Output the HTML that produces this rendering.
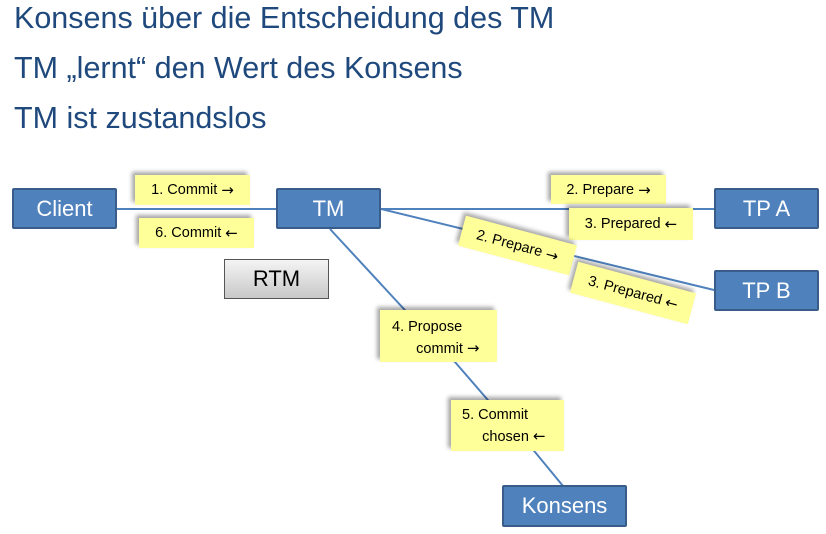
<!DOCTYPE html>
<html><head><meta charset="utf-8"><style>
body{margin:0;width:826px;height:534px;background:#fff;position:relative;overflow:hidden;font-family:"Liberation Sans",sans-serif}
.t{position:absolute;left:14px;font-size:30.5px;color:#1F497D;white-space:nowrap}
.b{position:absolute;background:#4F81BD;border:2px solid #385D8A;box-sizing:border-box;color:#fff;font-size:22px;display:flex;align-items:center;justify-content:center;border-radius:2px}
.n{position:absolute;background:#FFFF99;box-shadow:-3px -3px 4px rgba(0,0,0,.35);font-size:14.5px;color:#000;box-sizing:border-box;white-space:nowrap}
.c{display:flex;align-items:center;justify-content:center}
.a{font-family:"DejaVu Sans",sans-serif;font-size:15px}
</style></head><body>
<div class="t" style="top:1px">Konsens über die Entscheidung des TM</div>
<div class="t" style="top:51px">TM „lernt“ den Wert des Konsens</div>
<div class="t" style="top:101px">TM ist zustandslos</div>
<svg width="826" height="534" style="position:absolute;left:0;top:0">
<g stroke="#4F81BD" stroke-width="2" fill="none">
<line x1="117" y1="209" x2="276" y2="209"/>
<line x1="381" y1="209" x2="714" y2="209"/>
<line x1="381" y1="209" x2="714" y2="290"/>
<polyline points="330,229 403,308 455,362 487,399 535,452 563,486"/>
</g></svg>
<div class="b" style="left:12px;top:188px;width:105px;height:41px">Client</div>
<div class="b" style="left:276px;top:188px;width:105px;height:41px">TM</div>
<div class="b" style="left:714px;top:188px;width:105px;height:41px">TP A</div>
<div class="b" style="left:714px;top:270px;width:105px;height:41px">TP B</div>
<div class="b" style="left:502px;top:485px;width:125px;height:42px">Konsens</div>
<div style="position:absolute;left:224px;top:259px;width:105px;height:40px;box-sizing:border-box;border:1px solid #555;background:linear-gradient(#f4f4f4,#c8c8c8);font-size:22px;display:flex;align-items:center;justify-content:center">RTM</div>
<div class="n c" style="left:135px;top:175px;width:115px;height:30px">1. Commit&nbsp;<span class="a">→</span></div>
<div class="n c" style="left:139px;top:218px;width:115px;height:30px">6. Commit&nbsp;<span class="a">←</span></div>
<div class="n c" style="left:551px;top:175px;width:115px;height:29px">2. Prepare&nbsp;<span class="a">→</span></div>
<div class="n c" style="left:569px;top:208px;width:124px;height:32px">3. Prepared&nbsp;<span class="a">←</span></div>
<div class="n c" style="left:460px;top:230px;width:115px;height:31px;transform:rotate(15deg)">2. Prepare&nbsp;<span class="a">→</span></div>
<div class="n c" style="left:572px;top:277px;width:122px;height:32px;transform:rotate(15deg)">3. Prepared&nbsp;<span class="a">←</span></div>
<div class="n" style="left:380px;top:310px;width:117px;height:52px;padding:7px 0 0 12px;line-height:21px">4. Propose<br>&nbsp;&nbsp;&nbsp;&nbsp;&nbsp;&nbsp;commit <span class="a">→</span></div>
<div class="n" style="left:451px;top:400px;width:113px;height:51px;padding:5px 0 0 11px;line-height:21px">5. Commit<br>&nbsp;&nbsp;&nbsp;&nbsp;&nbsp;chosen <span class="a">←</span></div>
</body></html>
